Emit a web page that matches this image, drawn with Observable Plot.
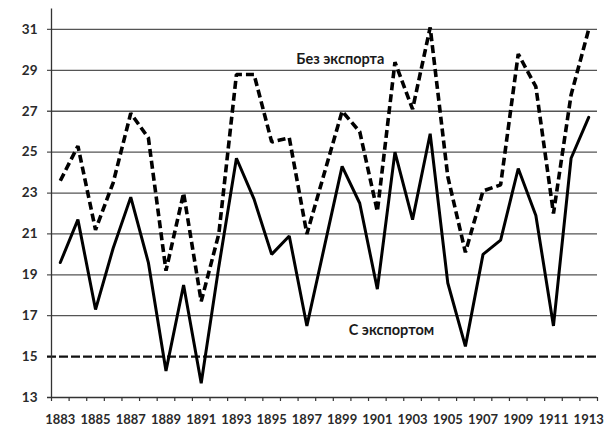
<!DOCTYPE html>
<html>
<head>
<meta charset="utf-8">
<script src="https://cdn.jsdelivr.net/npm/d3@7"></script>
<script src="https://cdn.jsdelivr.net/npm/@observablehq/plot@0.6"></script>
<style>
  html, body { margin: 0; padding: 0; background: #fff; }
  #chart svg { display: block; }
</style>
</head>
<body>
<div id="chart"></div>
<script>
const years = [1883,1884,1885,1886,1887,1888,1889,1890,1891,1892,1893,1894,1895,1896,1897,1898,1899,1900,1901,1902,1903,1904,1905,1906,1907,1908,1909,1910,1911,1912,1913];
const withExport = [19.6,21.7,17.3,20.3,22.8,19.6,14.3,18.5,13.7,19.4,24.7,22.7,20.0,20.9,16.5,20.4,24.3,22.5,18.3,25.0,21.7,25.9,18.6,15.5,20.0,20.7,24.2,21.9,16.5,24.7,26.7];
const withoutExport = [23.6,25.3,21.2,23.5,26.9,25.7,19.2,23.0,17.7,21.0,28.8,28.8,25.5,25.7,21.0,24.0,27.0,26.0,22.1,29.4,27.1,31.1,23.8,20.1,23.1,23.4,29.8,28.2,22.0,27.8,31.0];
const yTicks = [13,15,17,19,21,23,25,27,29,31];
const xTickLabels = [1883,1885,1887,1889,1891,1893,1895,1897,1899,1901,1903,1905,1907,1909,1911,1913];
const thresholdValue = 15;
const seriesLabels = [
  {name: "Без экспорта", year: 1898.9, value: 29.55},
  {name: "С экспортом", year: 1901.8, value: 16.3}
];

const dataWith = years.map((y, i) => ({year: y, value: withExport[i]}));
const dataWithout = years.map((y, i) => ({year: y, value: withoutExport[i]}));
const bounds = years.map(y => y - 0.5).concat([years[years.length - 1] + 0.5]);
const xMin = bounds[0], xMax = bounds[bounds.length - 1];
const yMin = 13, yMax = 32;

const chart = Plot.plot({
  width: 613,
  height: 430,
  marginLeft: 51,
  marginRight: 16,
  marginTop: 8.5,
  marginBottom: 33,
  style: {fontFamily: "Lato, 'Open Sans', sans-serif", background: "#fff"},
  x: {type: "linear", domain: [xMin, xMax], label: null},
  y: {type: "linear", domain: [yMin, yMax], label: null},
  marks: [
    Plot.ruleY(yTicks.filter(v => v !== thresholdValue && v !== yMin), {
      y: d => d, x1: xMin, x2: xMax, stroke: "#555", strokeWidth: 1.3, insetLeft: -4
    }),
    Plot.ruleY([thresholdValue], {
      y: d => d, x1: xMin, x2: xMax, stroke: "#111", strokeWidth: 2.2, strokeDasharray: "9,3", insetLeft: -4
    }),
    Plot.ruleX([xMin], {x: d => d, y1: yMin, y2: yMax, stroke: "#333", strokeWidth: 1.3}),
    Plot.ruleY([yMin], {y: d => d, x1: xMin, x2: xMax, stroke: "#333", strokeWidth: 1.3, insetLeft: -4}),
    Plot.ruleX(bounds, {x: d => d, y1: yMin, y2: yMin, insetBottom: -4, stroke: "#333", strokeWidth: 1.2}),
    Plot.axisY(yTicks, {
      tickSize: 0, tickPadding: 14, fontSize: 13.5, fontWeight: "bold", fill: "#2a2a2a", label: null
    }),
    Plot.axisX(xTickLabels, {
      tickSize: 0, tickPadding: 17, fontSize: 13, fontWeight: "bold", fill: "#2a2a2a", tickFormat: d => String(d), label: null
    }),
    Plot.line(dataWithout, {
      x: "year", y: "value", stroke: "#000", strokeWidth: 3.6, strokeDasharray: "8,4", strokeLinejoin: "miter", strokeLinecap: "butt"
    }),
    Plot.line(dataWith, {
      x: "year", y: "value", stroke: "#000", strokeWidth: 3, strokeLinejoin: "miter"
    }),
    Plot.text(seriesLabels, {
      x: "year", y: "value", text: "name", fontSize: 14.5, fontWeight: "bold", fill: "#1a1a1a"
    })
  ]
});
document.getElementById("chart").appendChild(chart);
</script>
</body>
</html>
